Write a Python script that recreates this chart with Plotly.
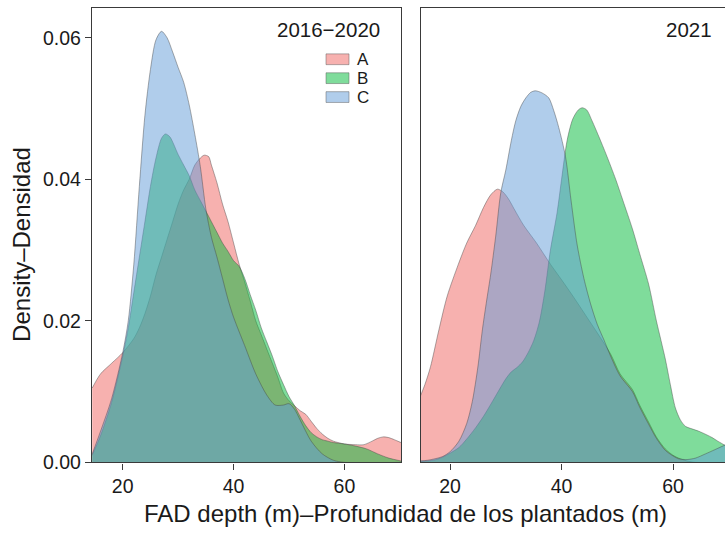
import plotly.graph_objects as go

W, H = 725, 539

GROUPS = ["A", "B", "C"]
PERIODS = ["2016−2020", "2021"]

# density curves (x = FAD depth in m)
A_1620_X = [14.5, 16, 18, 20, 22, 23, 24, 25, 26, 27, 28, 29, 30, 31, 32, 33, 34, 34.7, 35.5, 36,
            37, 38, 39, 40, 41, 42, 43, 44, 45, 46, 47, 48, 49, 50, 51, 52, 53, 54, 55, 56,
            57, 58, 60, 62, 63.5, 65, 66, 67, 68, 69, 70.2]
A_1620_Y = [0.0105, 0.0125, 0.014, 0.0155, 0.0175, 0.019, 0.021, 0.0235, 0.0265, 0.029,
            0.0315, 0.034, 0.0365, 0.0385, 0.040, 0.042, 0.043, 0.0434, 0.0432, 0.042,
            0.0395, 0.0365, 0.034, 0.031, 0.028, 0.0255, 0.0228, 0.020, 0.018, 0.016,
            0.014, 0.012, 0.0098, 0.0087, 0.008, 0.0073, 0.0068, 0.0058, 0.0048, 0.004,
            0.0034, 0.003, 0.0026, 0.0025, 0.0025, 0.003, 0.0034, 0.0036, 0.0035, 0.0032, 0.0028]

B_1620_X = [14.5, 16, 18, 20, 21, 22, 23, 24, 25, 26, 27, 27.7, 28.5, 30, 31, 32, 33, 34, 35, 36,
            37, 38, 39, 40, 41, 42, 43, 44, 45, 46, 47, 48, 49, 50, 51, 52, 53, 54, 55, 56,
            57, 58, 60, 62, 64, 66, 68, 70.2]
B_1620_Y = [0.001, 0.0038, 0.0085, 0.015, 0.019, 0.024, 0.029, 0.034, 0.039, 0.043,
            0.0458, 0.0464, 0.046, 0.0435, 0.042, 0.0405, 0.0385, 0.037, 0.0355, 0.034,
            0.0325, 0.031, 0.0298, 0.0285, 0.0277, 0.026, 0.0237, 0.0215, 0.019, 0.017,
            0.015, 0.0128, 0.011, 0.0093, 0.008, 0.0065, 0.0052, 0.0042, 0.0036, 0.0032,
            0.003, 0.0028, 0.0026, 0.0023, 0.0019, 0.0012, 0.0006, 0.0002]

C_1620_X = [14.5, 16, 18, 20, 21, 22, 23, 24, 25, 26, 27, 28, 29, 30, 31, 32, 33, 34, 35, 36,
            37, 38, 39, 40, 42, 44, 46, 47.5, 49, 50, 51, 52, 54, 56, 58, 60, 70.2]
C_1620_Y = [0.0012, 0.0044, 0.009, 0.0155, 0.020, 0.028, 0.039, 0.049, 0.0555, 0.0597,
            0.0609, 0.060, 0.058, 0.0558, 0.0537, 0.0505, 0.0464, 0.0418, 0.0358, 0.0318,
            0.029, 0.026, 0.023, 0.0205, 0.0165, 0.0125, 0.0095, 0.0081, 0.0081, 0.0083,
            0.0075, 0.006, 0.003, 0.0012, 0.0003, 0.0, 0.0]

A_2021_X = [14.5, 15.5, 16.5, 18, 19.5, 21.5, 23, 24.6, 26, 27.3, 28.5, 29.5, 30.5, 31.5, 33.2,
            35.5, 38, 40, 42.2, 44.3, 46.4, 48.8, 50.5, 52.7, 54, 55.6, 57, 58.6, 60, 61,
            62.5, 64, 70]
A_2021_Y = [0.009, 0.011, 0.0135, 0.0187, 0.0235, 0.028, 0.031, 0.0335, 0.036, 0.0378,
            0.0386, 0.0382, 0.0372, 0.0358, 0.0335, 0.031, 0.028, 0.0258, 0.0233, 0.0208,
            0.0183, 0.0153, 0.0125, 0.0103, 0.0081, 0.0057, 0.0036, 0.0019, 0.001, 0.0006,
            0.0002, 0.0, 0.0]

B_2021_X = [14.5, 17, 18.6, 20, 21.6, 23, 24.6, 26, 27.6, 29, 30, 31, 32, 33, 34, 35, 36, 37,
            38, 39.2, 40, 41, 42, 43, 43.7, 44.5, 45.5, 46.7, 48, 49.7, 51, 52.7, 54, 55.6,
            57, 58.6, 59.5, 60.4, 61.3, 62.2, 63.5, 64.6, 66, 67, 68, 70]
B_2021_Y = [0.0001, 0.0003, 0.0007, 0.0013, 0.0021, 0.0033, 0.0049, 0.0065, 0.0086, 0.0105,
            0.0118, 0.0128, 0.0134, 0.0142, 0.0155, 0.0172, 0.0198, 0.0242, 0.030, 0.0353,
            0.040, 0.0455, 0.0485, 0.0498, 0.0501, 0.0498, 0.0482, 0.046, 0.0435, 0.040,
            0.037, 0.033, 0.0295, 0.0252, 0.020, 0.0146, 0.011, 0.0077, 0.006, 0.0051,
            0.0047, 0.0044, 0.0039, 0.0035, 0.003, 0.0021]

C_2021_X = [14.5, 16, 18.6, 20, 21.6, 23, 24, 25, 25.8, 26.5, 27.3, 28.2, 29.1, 30, 31, 31.8,
            32.7, 33.6, 34.5, 35.3, 36.5, 37.7, 38.6, 39.5, 40.7, 41.7, 42.8, 44, 45.2, 46.4,
            47.6, 48.8, 50.5, 52.7, 54, 55.6, 57, 58.6, 60, 61, 62.5, 64, 65.8, 67.5, 70]
C_2021_Y = [0.0002, 0.0003, 0.0008, 0.0015, 0.003, 0.0055, 0.0086, 0.0135, 0.0187, 0.0225,
            0.0266, 0.032, 0.0381, 0.0413, 0.0455, 0.0483, 0.0503, 0.0515, 0.0523, 0.0525,
            0.0522, 0.0515, 0.0497, 0.0473, 0.0432, 0.037, 0.0307, 0.026, 0.0224, 0.0195,
            0.0173, 0.015, 0.0122, 0.01, 0.0078, 0.0054, 0.0034, 0.0017, 0.0009, 0.0005,
            0.0004, 0.0006, 0.0012, 0.0018, 0.0027]

X_TICKS = [20, 40, 60]
Y_TICKS = [0.0, 0.02, 0.04, 0.06]

COLORS = {"A": (240, 100, 96), "B": (0, 186, 56), "C": (97, 156, 215)}
FONT = "Liberation Sans, Arial, sans-serif"
TXT = "#1a1a1a"
LINE = "#3a3a3a"

curves = {
    (PERIODS[0], "A"): (A_1620_X, A_1620_Y),
    (PERIODS[0], "B"): (B_1620_X, B_1620_Y),
    (PERIODS[0], "C"): (C_1620_X, C_1620_Y),
    (PERIODS[1], "A"): (A_2021_X, A_2021_Y),
    (PERIODS[1], "B"): (B_2021_X, B_2021_Y),
    (PERIODS[1], "C"): (C_2021_X, C_2021_Y),
}


def rgba(c, a):
    return f"rgba({c[0]},{c[1]},{c[2]},{a})"


def px_x(p):
    return p / W


def px_y(p):
    return 1 - p / H


fig = go.Figure()

for i, period in enumerate(PERIODS):
    xa = "x" if i == 0 else "x2"
    ya = "y" if i == 0 else "y2"
    for g in GROUPS:
        xs, ys = curves[(period, g)]
        fig.add_trace(go.Scatter(
            x=xs, y=ys, xaxis=xa, yaxis=ya,
            mode="lines", fill="tozeroy",
            fillcolor=rgba(COLORS[g], 0.5),
            line=dict(color="rgba(70,70,70,0.55)", width=0.8, shape="spline", smoothing=0.8),
            name=g, showlegend=False, hoverinfo="skip",
        ))

y_dom = [px_y(472), px_y(8)]
y_range = [0, 0.06422]

axis_common = dict(
    showgrid=False, zeroline=False, showline=True, linecolor=LINE, linewidth=1.3,
    ticks="outside", ticklen=6, tickwidth=1, tickcolor=LINE,
    tickfont=dict(family=FONT, size=19.5, color=TXT),
)

fig.update_layout(
    width=W, height=H, autosize=False,
    margin=dict(l=0, r=0, t=0, b=0, pad=0),
    paper_bgcolor="white", plot_bgcolor="white",
    xaxis=dict(domain=[px_x(92), px_x(401)], range=[14.46, 70.2], tickvals=X_TICKS,
               mirror=True, anchor="y", **axis_common),
    yaxis=dict(domain=y_dom, range=y_range, tickvals=Y_TICKS, tickformat=".2f",
               mirror=True, anchor="x", **axis_common),
    xaxis2=dict(domain=[px_x(421), 1.0], range=[14.8, 69.3], tickvals=X_TICKS,
                mirror=True, anchor="y2", **axis_common),
    yaxis2=dict(domain=y_dom, range=y_range, showgrid=False, zeroline=False,
                showline=True, linecolor=LINE, linewidth=1.3, showticklabels=False,
                ticks="", anchor="x2"),
)

# axis titles and facet labels
fig.add_annotation(text="FAD depth (m)–Profundidad de los plantados (m)",
                   x=px_x(405), y=px_y(524), xref="paper", yref="paper",
                   showarrow=False, font=dict(family=FONT, size=24, color=TXT),
                   xanchor="center", yanchor="middle")
fig.add_annotation(text="Density–Densidad", textangle=-90,
                   x=px_x(22), y=px_y(250), xref="paper", yref="paper",
                   showarrow=False, font=dict(family=FONT, size=24, color=TXT),
                   xanchor="center", yanchor="middle")
for label, right in zip(PERIODS, [382, 714]):
    fig.add_annotation(text=label, x=px_x(right), y=px_y(30), xref="paper", yref="paper",
                       showarrow=False, font=dict(family=FONT, size=20.5, color=TXT),
                       xanchor="right", yanchor="middle")

# legend drawn inside the first panel
for k, g in enumerate(GROUPS):
    yc = 60.5 + k * 19.3
    fig.add_shape(type="rect", xref="paper", yref="paper",
                  x0=px_x(326), x1=px_x(349), y0=px_y(yc + 5.5), y1=px_y(yc - 5.5),
                  fillcolor=rgba(COLORS[g], 0.5), line=dict(color="rgba(90,90,90,0.6)", width=0.8))
    fig.add_annotation(text=g, x=px_x(355), y=px_y(yc), xref="paper", yref="paper",
                       showarrow=False, font=dict(family=FONT, size=17, color=TXT),
                       xanchor="left", yanchor="middle")

# page has a default 8px body margin; drop it so the figure sits at the window corner
fig.write_html("out.html", config={"displayModeBar": False},
               post_script="document.body.style.margin='0';")
